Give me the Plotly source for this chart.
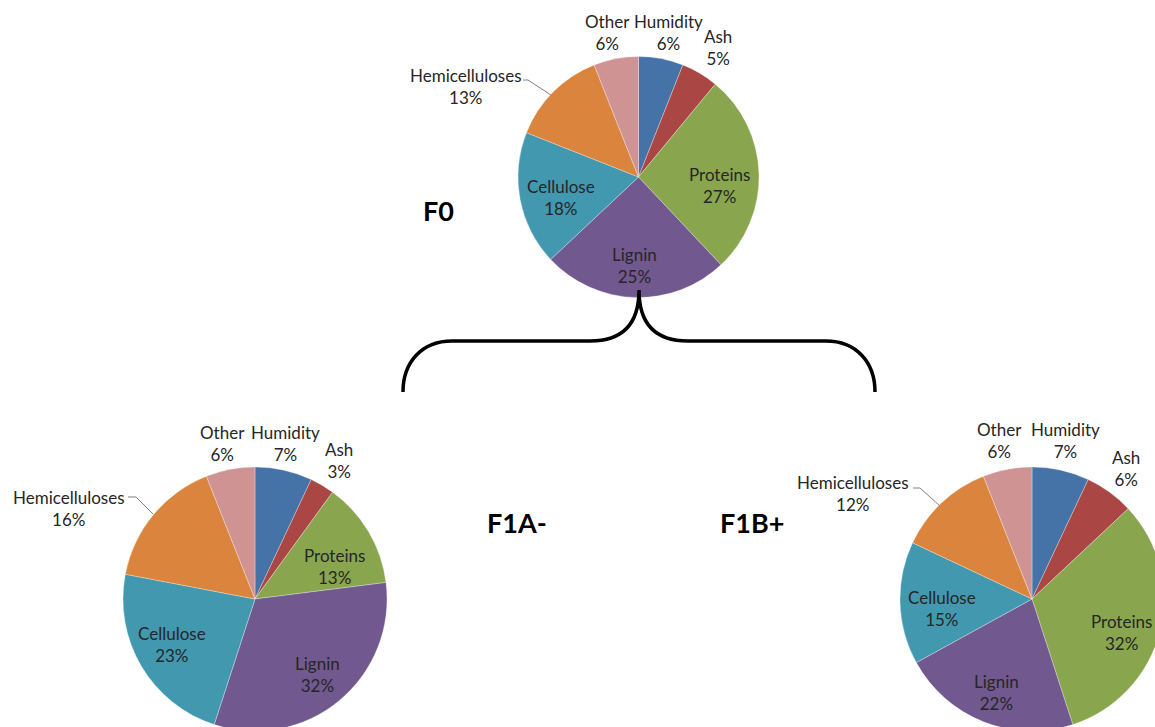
import plotly.graph_objects as go

# ---- data ----
labels = ["Humidity", "Ash", "Proteins", "Lignin", "Cellulose", "Hemicelluloses", "Other"]
f0_values = [6, 5, 27, 25, 18, 13, 6]
f1a_values = [7, 3, 13, 32, 23, 16, 6]
f1b_values = [7, 6, 32, 22, 15, 12, 6]
pie_titles = ["F0", "F1A-", "F1B+"]

colors = ["#4572A7", "#AA4643", "#89A54E", "#71588F", "#4198AF", "#DB843D", "#D09393"]

# ---- layout geometry (pixels) ----
W, H = 1170, 740
FONT = "Lato, Calibri, 'Open Sans', sans-serif"
TXT = "#262626"


def px(x):
    return x / W


def py(y):
    return 1 - y / H


def dom(cx, cy, r):
    return dict(x=[(cx - r) / W, (cx + r) / W], y=[1 - (cy + r) / H, 1 - (cy - r) / H])


pies = [
    dict(values=f0_values, title=pie_titles[0], center=(638.5, 177), r=120.5,
         title_xy=(438, 210),
         label_xy={"Other": (607, 32), "Humidity": (668, 32), "Ash": (718, 47),
                   "Hemicelluloses": (466, 86), "Proteins": (719, 185),
                   "Lignin": (634, 265), "Cellulose": (561, 197)},
         leader=[(523, 80), (528, 80), (551, 95)]),
    dict(values=f1a_values, title=pie_titles[1], center=(255, 599), r=132,
         title_xy=(517, 522),
         label_xy={"Other": (222, 443), "Humidity": (285, 443), "Ash": (339, 460),
                   "Hemicelluloses": (69, 508), "Proteins": (334, 566),
                   "Lignin": (317, 674), "Cellulose": (172, 644)},
         leader=[(128, 497), (136, 497), (153, 514)]),
    dict(values=f1b_values, title=pie_titles[2], center=(1032, 599), r=132,
         title_xy=(752, 522),
         label_xy={"Other": (999, 440), "Humidity": (1065, 440), "Ash": (1126, 468),
                   "Hemicelluloses": (853, 494), "Proteins": (1121, 632),
                   "Lignin": (996, 692), "Cellulose": (942, 608)},
         leader=[(913, 488), (920, 488), (940, 506)]),
]

fig = go.Figure()
annotations = []
shapes = []
for p in pies:
    cx, cy = p["center"]
    fig.add_trace(
        go.Pie(
            labels=labels,
            values=p["values"],
            sort=False,
            direction="clockwise",
            rotation=0,
            domain=dom(cx, cy, p["r"]),
            marker=dict(colors=colors, line=dict(color="rgba(255,255,255,0.5)", width=0.6)),
            textinfo="none",
            showlegend=False,
            hoverinfo="label+percent",
        )
    )
    # data labels (label + value)
    for lab, val in zip(labels, p["values"]):
        x, y = p["label_xy"][lab]
        annotations.append(dict(
            text=f"{lab}<br>{val}%", x=px(x), y=py(y), xref="paper", yref="paper",
            xanchor="center", yanchor="middle", showarrow=False, align="center",
            font=dict(family=FONT, size=17, color=TXT)))
    # leader line for Hemicelluloses
    pts = p["leader"]
    path = "M " + " L ".join(f"{px(a):.5f},{py(b):.5f}" for a, b in pts)
    shapes.append(dict(type="path", path=path, xref="paper", yref="paper",
                       line=dict(color="#7f7f7f", width=1)))
    # pie title
    tx, ty = p["title_xy"]
    annotations.append(dict(
        text=f"<b>{p['title']}</b>", x=px(tx), y=py(ty), xref="paper", yref="paper",
        xanchor="center", yanchor="middle", showarrow=False,
        font=dict(size=27, color="black", family=FONT)))


# brace connecting F0 to F1A- and F1B+
def P(x, y):
    return f"{px(x):.5f},{py(y):.5f}"


brace = (
    f"M {P(403, 392)} C {P(403, 362)} {P(422, 341)} {P(452, 341)} "
    f"L {P(590, 341)} C {P(622, 341)} {P(639, 325)} {P(639, 290)} "
    f"C {P(639, 325)} {P(656, 341)} {P(688, 341)} "
    f"L {P(826, 341)} C {P(856, 341)} {P(875, 362)} {P(875, 392)}"
)
shapes.append(dict(type="path", path=brace, xref="paper", yref="paper",
                   line=dict(color="black", width=3.5)))

fig.update_layout(
    width=W,
    height=H,
    margin=dict(l=0, r=0, t=0, b=0),
    paper_bgcolor="white",
    plot_bgcolor="white",
    font=dict(family=FONT, size=17, color=TXT),
    shapes=shapes,
    annotations=annotations,
)

fig.write_html(
    "out.html",
    config={"displayModeBar": False},
    post_script="document.body.style.margin='0';document.body.style.overflow='hidden';",
)
